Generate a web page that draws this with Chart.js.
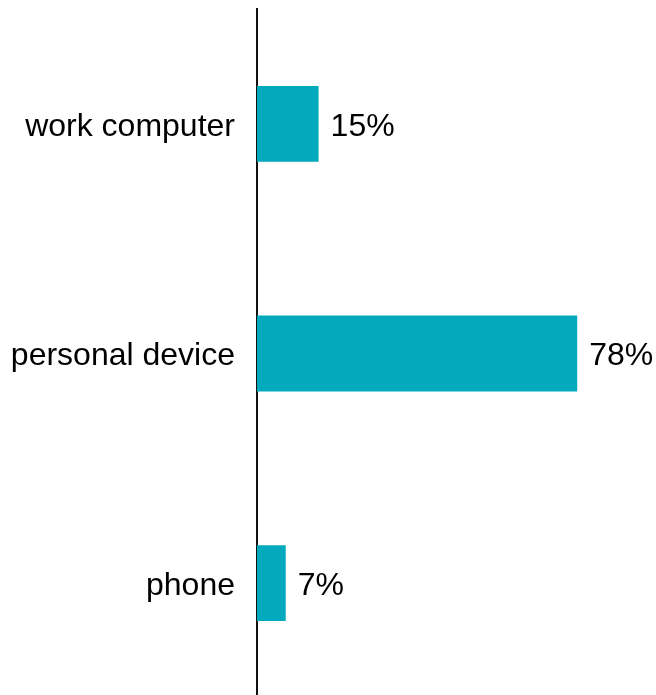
<!DOCTYPE html>
<html>
<head>
<meta charset="utf-8">
<script src="https://cdn.jsdelivr.net/npm/chart.js@4.4.1/dist/chart.umd.min.js"></script>
<style>
  html, body { margin: 0; padding: 0; background: #fff; overflow: hidden; }
  #wrap { width: 656px; height: 698px; }
</style>
</head>
<body>
<div id="wrap"><canvas id="devices"></canvas></div>
<script>
// chart data
var categories = ["work computer", "personal device", "phone"];
var shares = [15, 78, 7];

// value labels at the end of each bar
var valueLabels = {
    id: "valueLabels",
    afterDatasetsDraw: function (chart) {
        var ctx = chart.ctx;
        var meta = chart.getDatasetMeta(0);
        ctx.save();
        ctx.font = "32px 'Liberation Sans', Arial, sans-serif";
        ctx.fillStyle = "#000";
        ctx.textAlign = "left";
        ctx.textBaseline = "middle";
        meta.data.forEach(function (bar, i) {
            ctx.fillText(shares[i] + "%", bar.x + 12, bar.y + 3);
        });
        ctx.restore();
    }
};

const dv = document.getElementById("devices");

const devChart = new Chart(dv, {
    type: 'bar',
    data: {
        labels: categories,
        datasets: [{
            data: shares,
            backgroundColor: '#03A9BC',
            borderWidth: 0,
            categoryPercentage: 1,
            barPercentage: 0.33
        }]
    },
    options: {
        indexAxis: 'y',
        responsive: true,
        maintainAspectRatio: false,
        animation: false,
        layout: { padding: { left: 12, right: 9, top: 9, bottom: 0 } },
        plugins: {
            legend: { display: false },
            tooltip: { enabled: false }
        },
        scales: {
            x: {
                display: false,
                min: 0,
                max: 95
            },
            y: {
                grid: { display: false, drawTicks: false },
                border: { display: true, color: '#111', width: 2 },
                ticks: {
                    padding: 22,
                    labelOffset: 3,
                    color: '#000',
                    font: { family: "'Liberation Sans', Arial, sans-serif", size: 32 }
                },
                afterFit: function (scale) {
                    scale.width = 245;
                    scale.paddingTop = 0;
                    scale.paddingBottom = 0;
                }
            }
        }
    },
    plugins: [valueLabels]
});
</script>
</body>
</html>
